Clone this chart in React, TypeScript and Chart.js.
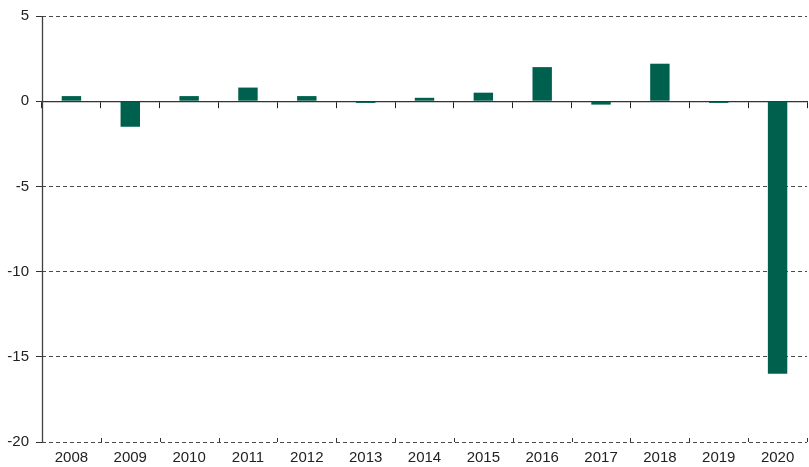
import React, { useEffect, useRef } from "react";
import { Chart, registerables } from "chart.js";

Chart.register(...registerables);

const years = ["2008", "2009", "2010", "2011", "2012", "2013", "2014", "2015", "2016", "2017", "2018", "2019", "2020"];
const values = [0.3, -1.5, 0.3, 0.8, 0.3, -0.1, 0.2, 0.5, 2.0, -0.2, 2.2, -0.1, -16.0];
const yMin = -20;
const yMax = 5;
const yStep = 5;

const FONT = "'Liberation Sans', Arial, sans-serif";

const axisDecor = {
  id: "axisDecor",
  afterDatasetsDraw(chart: any) {
    const x = chart.scales.x;
    const area = chart.chartArea;
    const ctx = chart.ctx;
    ctx.save();
    ctx.setLineDash([]);
    ctx.strokeStyle = "#333";
    ctx.lineWidth = 1;
    const n = years.length;
    for (let i = 0; i < n; i++) {
      const px = i < n - 1 ? (x.getPixelForValue(i) + x.getPixelForValue(i + 1)) / 2 : area.right - 0.5;
      const xx = Math.round(px) + 0.5;
      ctx.beginPath();
      ctx.moveTo(xx, area.bottom);
      ctx.lineTo(xx, area.bottom - 4);
      ctx.stroke();
    }
    // solid vertical axis line
    ctx.strokeStyle = "#404040";
    ctx.lineWidth = 1.3;
    const lx = Math.round(area.left) + 0.5;
    ctx.beginPath();
    ctx.moveTo(lx, area.top);
    ctx.lineTo(lx, area.bottom);
    ctx.stroke();
    ctx.restore();
  },
};

export default function App() {
  const ref = useRef<HTMLCanvasElement | null>(null);

  useEffect(() => {
    if (!ref.current) return;
    const chart = new Chart(ref.current, {
      type: "bar",
      data: {
        labels: years,
        datasets: [
          {
            data: values,
            backgroundColor: "#00604E",
            borderWidth: 0,
            barPercentage: 0.33,
            categoryPercentage: 1,
          },
        ],
      },
      options: {
        responsive: false,
        animation: false,
        layout: { padding: { top: 15, right: 2, left: 0, bottom: 0 } },
        plugins: { legend: { display: false }, tooltip: { enabled: false } },
        scales: {
          x: {
            type: "category",
            offset: true,
            grid: { display: false, drawTicks: false },
            border: { display: false },
            ticks: {
              color: "#222",
              font: { family: FONT, size: 15 },
              padding: 7,
              maxRotation: 0,
              autoSkip: false,
            },
            afterFit: (s: any) => {
              s.height = 25;
            },
          },
          x2: {
            type: "category",
            labels: years,
            position: { y: 0 } as any,
            offset: true,
            grid: {
              offset: true,
              drawOnChartArea: false,
              drawTicks: true,
              tickLength: 6,
              color: "#222",
            },
            border: { display: true, color: "#333", width: 1.2 },
            ticks: { display: false },
          },
          y: {
            min: yMin,
            max: yMax,
            ticks: {
              stepSize: yStep,
              color: "#222",
              font: { family: FONT, size: 15 },
              padding: 7,
            },
            grid: {
              color: "#4a4a4a",
              drawTicks: true,
              tickLength: 6,
              tickColor: "#333",
              tickBorderDash: [],
            },
            border: { display: false, dash: [4, 3] },
            afterFit: (s: any) => {
              s.width = 42;
            },
          } as any,
        },
      },
      plugins: [axisDecor],
    });
    return () => chart.destroy();
  }, []);

  return (
    <div style={{ position: "absolute", left: 0, top: 0, width: 809, height: 467, background: "#fff" }}>
      <canvas ref={ref} width={809} height={467} style={{ display: "block" }} />
    </div>
  );
}
